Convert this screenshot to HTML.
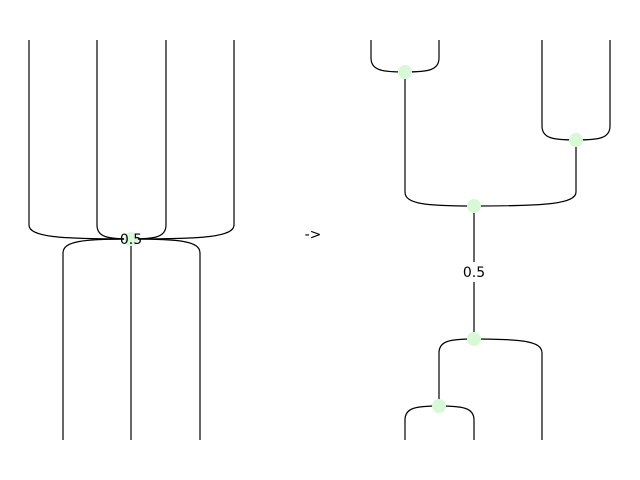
<!DOCTYPE html>
<html><head><meta charset="utf-8"><style>
html,body{margin:0;padding:0;background:#fff;}
svg{display:block;font-family:"DejaVu Sans","Liberation Sans",sans-serif;}
</style></head><body>
<svg width="640" height="480" viewBox="0 0 640 480">
<g id="g" fill="none" stroke="#000" stroke-width="1.2"></g>
<g id="n"></g>
<text x="131" y="244" font-size="14" text-anchor="middle">0.5</text>
<text x="313" y="239" font-size="14" text-anchor="middle">-&gt;</text>
<text x="474" y="277" font-size="14" text-anchor="middle">0.5</text>
</svg>
<script>
const g=document.getElementById('g'),n=document.getElementById('n');
function path(d,name){const p=document.createElementNS('http://www.w3.org/2000/svg','path');p.setAttribute('d',d);


g.appendChild(p);}
// wire from endpoint (x,yEnd) vertical then curving into node (nx,ny)
function wire(x,yEnd,nx,ny,name){
  const s=yEnd<ny?1:-1; const k=14;
  path(`M${x},${yEnd} L${x},${ny-s*k} C${x},${ny-s*2} ${x+(nx-x)*0.3},${ny} ${nx},${ny}`,name);
}
function node(x,y,name){const c=document.createElementNS('http://www.w3.org/2000/svg','circle');
c.setAttribute('cx',x);c.setAttribute('cy',y);c.setAttribute('r',7);c.setAttribute('fill','#d8f8d8');


n.appendChild(c);}
// left
node(131,239,'left-spider');
[29,97,166,234].forEach((x,i)=>wire(x,40,131,239,'left-input-wire-'+i));
[63,200].forEach((x,i)=>wire(x,440,131,239,'left-output-wire-'+i));
path('M131,239 L131,440','left-output-wire-middle');
// right
node(405,72,'node-a');node(576,140,'node-b');node(474,206,'node-c');node(474,339,'node-d');node(439,406,'node-e');
wire(371,40,405,72,'wire-a1');wire(439,40,405,72,'wire-a2');
wire(542,40,576,140,'wire-b1');wire(610,40,576,140,'wire-b2');
wire(405,72,474,206,'wire-ac');wire(576,140,474,206,'wire-bc');
path('M474,206 L474,262','wire-cd-top');path('M474,282 L474,339','wire-cd-bottom');
wire(439,406,474,339,'wire-de');wire(542,440,474,339,'wire-d-out');
wire(405,440,439,406,'wire-e-out1');wire(474,440,439,406,'wire-e-out2');
</script>
</body></html>
